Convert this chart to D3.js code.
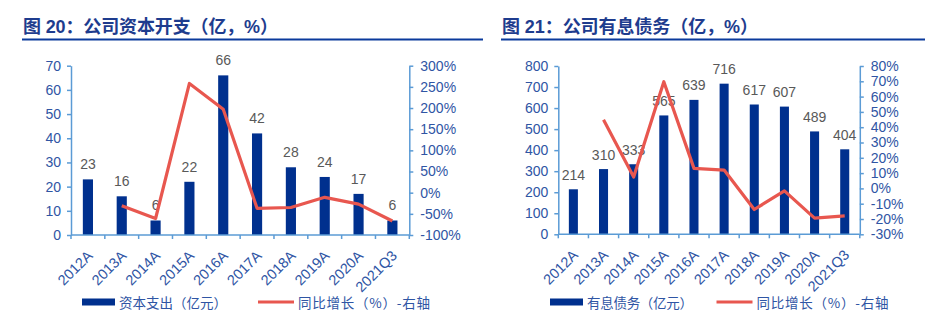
<!DOCTYPE html>
<html lang="zh-CN">
<head>
<meta charset="utf-8">
<script src="https://cdn.jsdelivr.net/npm/d3@7"></script>
<style>
  html, body { margin: 0; padding: 0; background: #ffffff; }
  svg { display: block; }
</style>
</head>
<body>
<svg id="chart" width="931" height="331"></svg>
<script>
// Shared categories
const categories = ["2012A", "2013A", "2014A", "2015A", "2016A", "2017A", "2018A", "2019A", "2020A", "2021Q3"];

// Figure 20: capital expenditure (亿元) and YoY growth (%)
const capex = [23, 16, 6, 22, 66, 42, 28, 24, 17, 6];
const capexYoY = [null, -31, -61, 258, 197, -37, -35, -11, -27, -67];
const capexTicks = [0, 10, 20, 30, 40, 50, 60, 70];
const capexYoYTicks = [-100, -50, 0, 50, 100, 150, 200, 250, 300];

// Figure 21: interest-bearing debt (亿元) and YoY growth (%)
const debt = [214, 310, 333, 565, 639, 716, 617, 607, 489, 404];
const debtYoY = [null, 44.9, 7.4, 69.7, 13.1, 12.0, -13.8, -1.6, -19.4, -18];
const debtTicks = [0, 100, 200, 300, 400, 500, 600, 700, 800];
const debtYoYTicks = [-30, -20, -10, 0, 10, 20, 30, 40, 50, 60, 70, 80];

const COLORS = {
  bar: "#00308e",
  line: "#e8574f",
  axis: "#5b9bd5",
  tick: "#2f55a4",
  value: "#595959",
  title: "#1e3c8e",
  rule: "#0b3a9c"
};
const LATIN = "'Liberation Sans', Arial, sans-serif";
const CJK = "'Noto Sans CJK SC', sans-serif";
const MIXED = "'Liberation Sans', 'Noto Sans CJK SC', sans-serif";

const svg = d3.select("#chart");

function drawPanel(cfg) {
  const g = svg.append("g");

  // Title and rule beneath it (full-width punctuation kept at full width)
  g.append("text")
    .attr("x", cfg.titleX).attr("y", 33)
    .attr("font-family", MIXED)
    .attr("font-weight", "bold")
    .attr("font-size", 18)
    .attr("fill", COLORS.title)
    .attr("textLength", cfg.titleW)
    .attr("lengthAdjust", "spacing")
    .text(cfg.title);
  g.append("line")
    .attr("x1", cfg.ruleX1).attr("x2", cfg.ruleX2)
    .attr("y1", 39.5).attr("y2", 39.5)
    .attr("stroke", COLORS.rule).attr("stroke-width", 2);

  const x = d3.scaleBand().domain(categories).range([cfg.left, cfg.right]).paddingInner(0).paddingOuter(0);
  const yL = d3.scaleLinear().domain(cfg.leftDomain).range([cfg.bottom, cfg.top]);
  const yR = d3.scaleLinear().domain(cfg.rightDomain).range([cfg.bottom, cfg.top]);
  const barW = x.bandwidth() * 0.3;

  // Bars
  g.append("g").selectAll("rect")
    .data(cfg.bars)
    .join("rect")
    .attr("x", (d, i) => x(categories[i]) + x.bandwidth() / 2 - barW / 2)
    .attr("y", d => yL(d))
    .attr("width", barW)
    .attr("height", d => yL(0) - yL(d))
    .attr("fill", COLORS.bar);

  // Value labels over bars
  g.append("g").selectAll("text")
    .data(cfg.bars)
    .join("text")
    .attr("x", (d, i) => x(categories[i]) + x.bandwidth() / 2)
    .attr("y", d => yL(d) - cfg.labelGap)
    .attr("text-anchor", "middle")
    .attr("font-family", LATIN)
    .attr("font-size", 14)
    .attr("fill", COLORS.value)
    .text(d => d);

  // Left axis
  const axL = g.append("g")
    .attr("transform", `translate(${cfg.left},0)`)
    .call(d3.axisLeft(yL).tickValues(cfg.leftTicks).tickSize(4).tickPadding(6).tickSizeOuter(0));
  // Right axis
  const axR = g.append("g")
    .attr("transform", `translate(${cfg.right},0)`)
    .call(d3.axisRight(yR).tickValues(cfg.rightTicks).tickSize(4).tickPadding(7).tickSizeOuter(0)
      .tickFormat(d => d + "%"));
  // Bottom axis with ticks at band boundaries
  const axB = g.append("g").attr("transform", `translate(0,${cfg.bottom})`);
  axB.append("line")
    .attr("x1", cfg.left).attr("x2", cfg.right)
    .attr("stroke", COLORS.axis).attr("stroke-width", 1.5);
  axB.selectAll("line.tk")
    .data(categories.concat(["_end"]))
    .join("line")
    .attr("class", "tk")
    .attr("x1", (d, i) => cfg.left + i * x.bandwidth())
    .attr("x2", (d, i) => cfg.left + i * x.bandwidth())
    .attr("y1", 0).attr("y2", 4)
    .attr("stroke", COLORS.axis).attr("stroke-width", 1.5);
  axB.selectAll("text")
    .data(categories)
    .join("text")
    .attr("transform", d => `translate(${x(d) + x.bandwidth() / 2 + 2},${cfg.xLabelDy}) rotate(-45)`)
    .attr("text-anchor", "end")
    .attr("dy", "0.35em")
    .attr("font-family", LATIN)
    .attr("font-size", 14.5)
    .attr("fill", COLORS.tick)
    .text(d => d);

  [axL, axR].forEach(ax => {
    ax.select(".domain").attr("stroke", COLORS.axis).attr("stroke-width", 1.5);
    ax.selectAll(".tick line").attr("stroke", COLORS.axis).attr("stroke-width", 1.5);
    ax.selectAll(".tick text")
      .attr("font-family", LATIN)
      .attr("font-size", 14)
      .attr("fill", COLORS.tick);
  });

  // YoY line on the right axis
  const line = d3.line()
    .defined(d => d != null)
    .x((d, i) => x(categories[i]) + x.bandwidth() / 2)
    .y(d => yR(d));
  g.append("path")
    .datum(cfg.line)
    .attr("d", line)
    .attr("fill", "none")
    .attr("stroke", COLORS.line)
    .attr("stroke-width", 3.2)
    .attr("stroke-linejoin", "round");

  // Legend
  const lg = g.append("g");
  lg.append("rect")
    .attr("x", cfg.legBarX).attr("y", 298.5)
    .attr("width", 33).attr("height", 7)
    .attr("fill", COLORS.bar);
  lg.append("text")
    .attr("x", cfg.legBarX + 37).attr("y", 302)
    .attr("dominant-baseline", "central")
    .attr("font-family", CJK)
    .attr("font-size", 13.5)
    .attr("fill", COLORS.tick)
    .attr("textLength", cfg.legBarTextW)
    .attr("lengthAdjust", "spacing")
    .text(cfg.barName);
  lg.append("line")
    .attr("x1", cfg.legLineX).attr("x2", cfg.legLineX + 36)
    .attr("y1", 302).attr("y2", 302)
    .attr("stroke", COLORS.line).attr("stroke-width", 3.2);
  lg.append("text")
    .attr("x", cfg.legLineX + 40).attr("y", 302)
    .attr("dominant-baseline", "central")
    .attr("font-family", CJK)
    .attr("font-size", 13.5)
    .attr("fill", COLORS.tick)
    .attr("textLength", cfg.legLineTextW)
    .attr("lengthAdjust", "spacing")
    .text("同比增长（%）-右轴");
}

drawPanel({
  title: "图 20：公司资本开支（亿，%）",
  titleX: 23, titleW: 255, ruleX1: 22, ruleX2: 483,
  left: 71, right: 409.3, top: 65.7, bottom: 235,
  leftDomain: [0, 70], rightDomain: [-100, 300],
  leftTicks: capexTicks, rightTicks: capexYoYTicks,
  bars: capex, line: capexYoY,
  labelGap: 10, xLabelDy: 18,
  legBarX: 82, legLineX: 258, legBarTextW: 108, legLineTextW: 132,
  barName: "资本支出（亿元）"
});

drawPanel({
  title: "图 21：公司有息债务（亿，%）",
  titleX: 502, titleW: 256, ruleX1: 501, ruleX2: 925,
  left: 558.3, right: 859.8, top: 66, bottom: 234.3,
  leftDomain: [0, 800], rightDomain: [-30, 80],
  leftTicks: debtTicks, rightTicks: debtYoYTicks,
  bars: debt, line: debtYoY,
  labelGap: 9.5, xLabelDy: 18,
  legBarX: 550, legLineX: 716.5, legBarTextW: 106, legLineTextW: 132,
  barName: "有息债务（亿元）"
});
</script>
</body>
</html>
